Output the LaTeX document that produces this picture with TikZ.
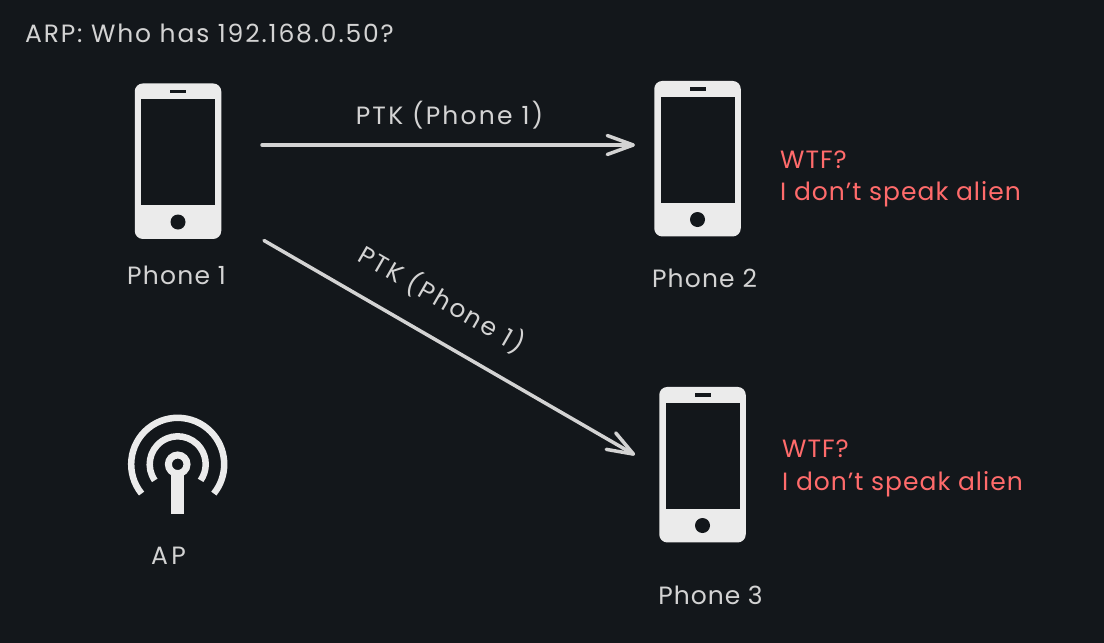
\documentclass[tikz,border=0pt]{standalone}
\usepackage{fontspec}
\setmainfont{Poppins}
\usetikzlibrary{arrows.meta}
\definecolor{bg}{HTML}{13171B}
\definecolor{phonec}{HTML}{EBEBEB}
\definecolor{ink}{HTML}{D3D3D3}
\definecolor{alert}{HTML}{FF6B6B}
\tikzset{
  x=1pt,y=-1pt,
  body/.style={fill=phonec,rounded corners=8pt,minimum width=86.5pt,minimum height=155.5pt,inner sep=0pt},
  screen/.style={fill=bg,minimum width=74pt,minimum height=106pt,inner sep=0pt},
  speaker/.style={fill=bg,minimum width=16pt,minimum height=3.5pt,inner sep=0pt},
  homekey/.style={fill=bg,circle,minimum size=15pt,inner sep=0pt},
  lab/.style={text=ink,font=\fontsize{25}{28}\selectfont\addfontfeature{LetterSpace=#1},inner sep=0pt},
  note/.style={text=alert,font=\fontsize{25}{28}\selectfont\addfontfeature{LetterSpace=4},inner sep=0pt,anchor=west},
  link/.style={draw=ink,line width=3.5pt,line cap=round,line join=round,-{Straight Barb[length=26pt,width=19pt,line width=3.5pt,round]}},
  wave/.style={draw=phonec,line width=6.5pt}
}
\begin{document}
\begin{tikzpicture}
\useasboundingbox[fill=bg] (0,0) rectangle (1104,643);
% Phone 1
\node[body] (p1) at (178,161.2) {};
\node[screen] at (178,152) {};
\node[speaker] at (178,91.5) {};
\node[homekey] at (178,222) {};
% Phone 2
\node[body] (p2) at (697.5,158.7) {};
\node[screen] at (697.5,149.5) {};
\node[speaker] at (697.5,89) {};
\node[homekey] at (697.5,219.5) {};
% Phone 3
\node[body] (p3) at (702.5,464.7) {};
\node[screen] at (702.5,455.5) {};
\node[speaker] at (702.5,395) {};
\node[homekey] at (702.5,525.5) {};
% AP
\coordinate (ap) at (177.7,464.3);
\fill[phonec] (171,470) rectangle (184,514.3);
\draw[draw=phonec,line width=7pt,fill=bg] (ap) circle[radius=9.3pt];
\draw[wave] (ap) ++(215:28pt) arc[start angle=215,end angle=-35,radius=28pt];
\draw[wave] (ap) ++(219:46.5pt) arc[start angle=219,end angle=-39,radius=46.5pt];
% Labels
\node[lab=7.4] (t0) at (209.5,33) {ARP: Who has 192.168.0.50?};
\node[lab=5] (l1) at (176.5,275) {Phone 1};
\node[lab=4.6] (l2) at (704.5,278) {Phone 2};
\node[lab=4] (l3) at (710.5,595) {Phone 3};
\node[lab=13] (lap) at (168.5,556) {AP};
\node[lab=9] (k1) at (449.5,115) {PTK (Phone 1)};
\node[lab=9,rotate=-30] (k2) at (442,299) {PTK (Phone 1)};
\node[note] (n1) at (780,160) {WTF?};
\node[note] (n2) at (780,194) {I don't speak alien};
\node[note] (n3) at (782,449) {WTF?};
\node[note] (n4) at (782,484) {I don't speak alien};
% Connectors
\coordinate (a) at (262,145);
\coordinate (b) at (635,145);
\coordinate (c) at (264,240.5);
\coordinate (d) at (635,455);
\draw[link] (a) -- (b);
\draw[link] (c) -- (d);
\end{tikzpicture}
\end{document}
